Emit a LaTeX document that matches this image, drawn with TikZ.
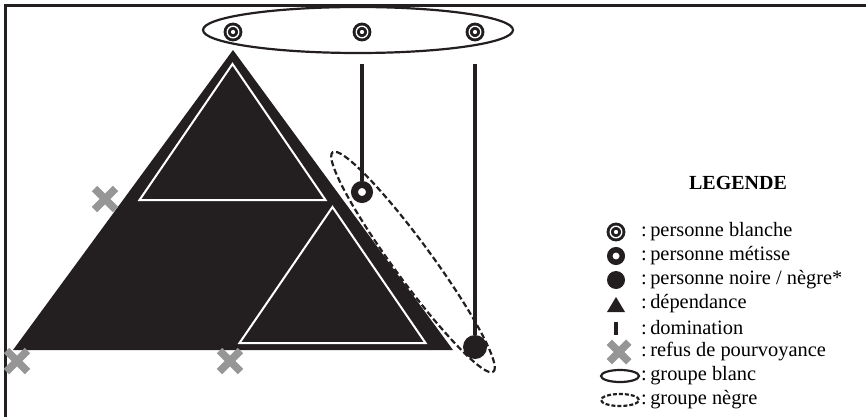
\documentclass[tikz,border=0pt]{standalone}
\usepackage{fontspec}
\setmainfont{Liberation Serif}
\usetikzlibrary{shapes.misc}
\definecolor{inkblack}{RGB}{35,31,32}
\definecolor{crossgray}{RGB}{150,150,150}
\tikzset{
  blanche/.style={circle, draw=inkblack, fill=white, double=white,
    double distance=1.3pt, line width=2.9pt, minimum size=11.6pt, inner sep=0pt},
  metisse/.style={circle, draw=inkblack, fill=white, line width=7pt,
    minimum size=15pt, inner sep=0pt},
  noire/.style={circle, fill=inkblack, minimum size=24pt, inner sep=0pt},
  refus/.style={cross out, draw=crossgray, line width=7.5pt,
    minimum size=13.5pt, inner sep=0pt},
  domline/.style={draw=inkblack, line width=4.5pt},
  legtext/.style={anchor=west, inner sep=0pt, font=\fontsize{20.4}{24}\selectfont},
}

\begin{document}
\begin{tikzpicture}[x=1pt, y=-1pt]
  \useasboundingbox (0,0) rectangle (866,417);
  % Frame
  \draw[inkblack, line width=2.7pt] (866,5.3) -- (5.3,5.3) -- (5.3,417);
  % Pyramid of dependence
  \fill[inkblack] (233,50) -- (13,350) -- (453,350) -- cycle;
  \draw[white, line width=2pt] (232.5,64) -- (139.5,200) -- (325.5,200) -- cycle;
  \draw[white, line width=2pt] (332.5,207) -- (239.5,343) -- (425.5,343) -- cycle;
  % White group
  \draw[inkblack, line width=2.2pt] (358,30) ellipse [x radius=155pt, y radius=23pt];
  \node[blanche] (b1) at (233,32) {};
  \node[blanche] (b2) at (362,32) {};
  \node[blanche] (b3) at (475,32) {};
  % Black group
  \draw[inkblack, line width=2.2pt, dash pattern=on 6pt off 3pt,
    rotate around={-53.8:(413,262)}] (413,262) ellipse [x radius=136pt, y radius=19pt];
  \node[metisse] (m) at (362,192) {};
  \node[noire] (n) at (475,347) {};
  % Domination
  \draw[domline, shorten <=24.75pt] (b2) -- (m);
  \draw[domline, shorten <=24.75pt] (b3) -- (n);
  % Refusals
  \node[refus] (r1) at (105,199) {};
  \node[refus] (r2) at (17,361) {};
  \node[refus] (r3) at (230,361) {};
  % Legend
  \node[font=\bfseries\fontsize{20}{24}\selectfont] (leg) at (738,183) {LEGENDE};
  \foreach \txt [count=\i] in {personne blanche, personne métisse,
      personne noire / nègre*, dépendance, domination,
      refus de pourvoyance, groupe blanc, groupe nègre} {
    \node[legtext] (t\i) at (641,208+24*\i) {:\,\txt};
  }
  \node[blanche] (lb) at (616,232) {};
  \node[metisse, line width=5.5pt, minimum size=12.5pt] (lm) at (616,256) {};
  \node[noire, minimum size=18pt] (ln) at (616,280) {};
  \fill[inkblack] (616,297) -- (625,312) -- (607,312) -- cycle;
  \draw[domline] (616,322) -- (616,335);
  \node[refus, minimum size=12pt] (lr) at (619,352) {};
  \draw[inkblack, line width=2.2pt] (620,376) ellipse [x radius=19pt, y radius=6pt];
  \draw[inkblack, line width=2.2pt, dash pattern=on 4pt off 2pt]
    (620,400) ellipse [x radius=19pt, y radius=6pt];
\end{tikzpicture}
\end{document}
